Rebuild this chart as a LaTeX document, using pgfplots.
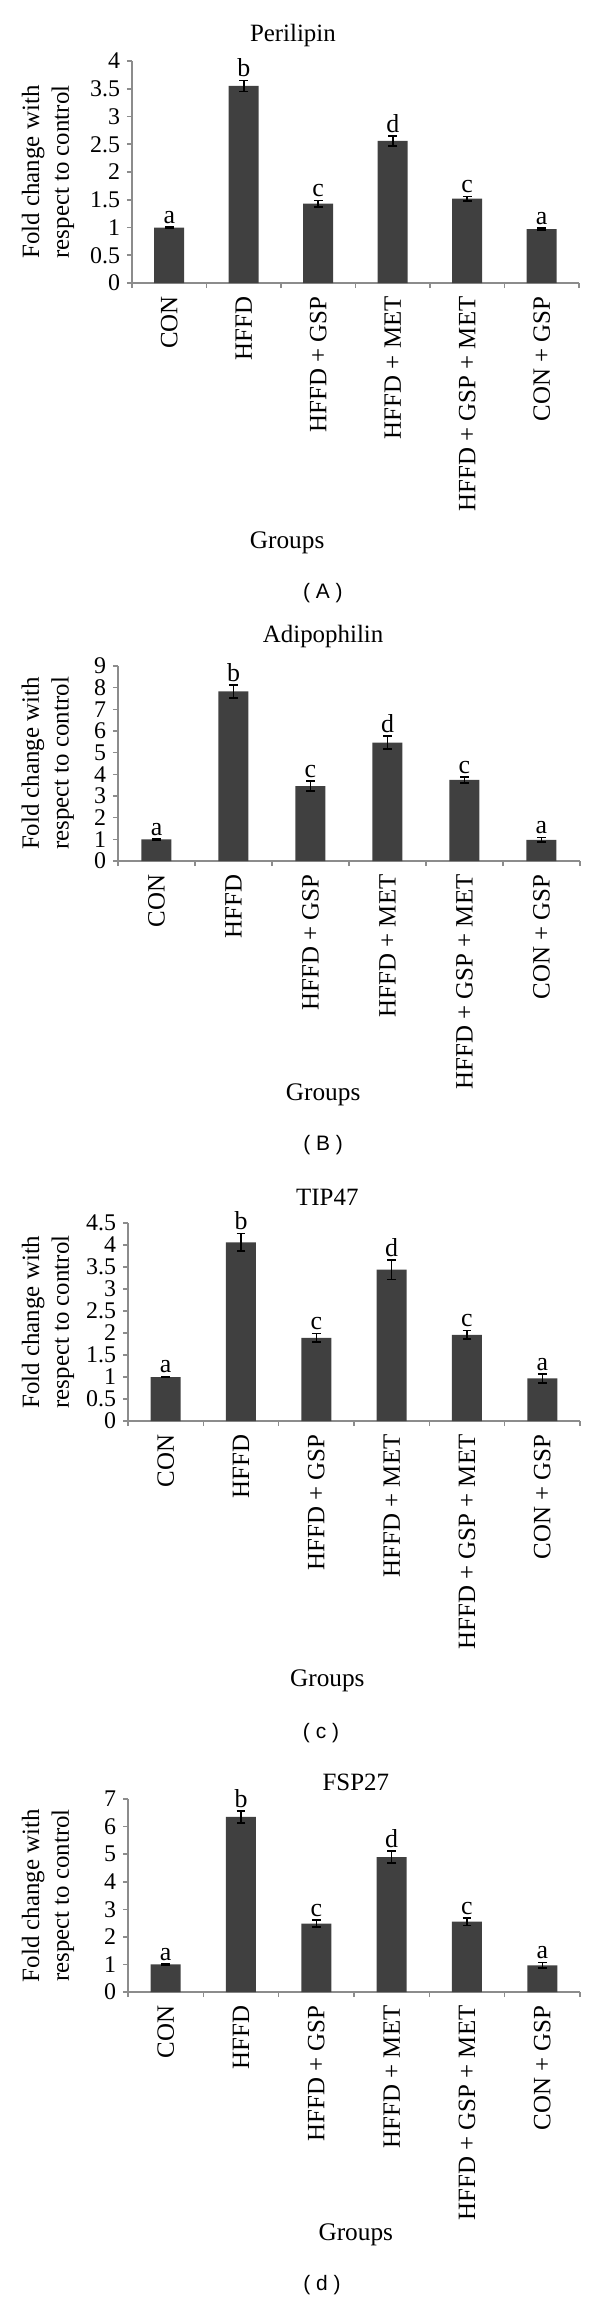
\documentclass[border=0pt]{standalone}
\usepackage{fontspec}
\setmainfont{Liberation Serif}
\newfontfamily\sansf{Liberation Sans}
\usepackage{pgfplots}
\usepackage{pgfplotstable}
\pgfplotsset{compat=1.18}

\definecolor{barc}{RGB}{64,64,64}
\definecolor{axc}{RGB}{140,140,140}

\pgfplotstableread{
x y e l
0 1.00 0.01 a
1 3.55 0.10 b
2 1.43 0.06 c
3 2.56 0.09 d
4 1.52 0.04 c
5 0.97 0.02 a
}\tA
\pgfplotstableread{
x y e l
0 1.00 0.02 a
1 7.83 0.30 b
2 3.46 0.23 c
3 5.47 0.30 d
4 3.74 0.15 c
5 0.98 0.10 a
}\tB
\pgfplotstableread{
x y e l
0 1.00 0.01 a
1 4.06 0.20 b
2 1.89 0.10 c
3 3.44 0.22 d
4 1.96 0.10 c
5 0.97 0.10 a
}\tC
\pgfplotstableread{
x y e l
0 1.00 0.02 a
1 6.35 0.22 b
2 2.48 0.13 c
3 4.89 0.22 d
4 2.55 0.14 c
5 0.97 0.10 a
}\tD

\pgfplotsset{
  panel/.style={
    scale only axis,
    anchor=south west,
    clip=false,
    axis x line*=bottom, axis y line*=left,
    axis line style={axc, line width=0.8bp},
    xmin=-0.5, xmax=5.5, ymin=0,
    xtick={0,...,5},
    xticklabels={CON, HFFD, HFFD + GSP, HFFD + MET, HFFD + GSP + MET, CON + GSP},
    minor xtick={-0.5,0.5,...,5.5},
    major x tick style={draw=none},
    minor x tick style={axc, line width=0.8bp},
    y tick style={axc, line width=0.8bp},
    tick align=outside,
    major tick length=2.5bp, minor tick length=2.5bp,
    xticklabel style={rotate=90, anchor=east, inner sep=4bp, font=\fontsize{12.5}{14}\selectfont},
    yticklabel style={font=\fontsize{12}{14}\selectfont},
    /pgf/number format/assume math mode=true,
    ylabel={Fold change with\\respect to control},
    ylabel style={align=center, font=\fontsize{12.5}{15}\selectfont, anchor=center},
    every axis title shift=0pt,
    title style={font=\fontsize{12.5}{15}\selectfont, anchor=center},
    xlabel={Groups},
    xlabel style={font=\fontsize{12.7}{15}\selectfont, anchor=center},
  },
  bars/.style={ybar, bar width=15bp, fill=barc, draw=none,
    error bars/.cd, y dir=both, y explicit,
    error bar style={black, line width=0.8bp},
    error mark options={black, rotate=90, mark size=2.2bp, line width=0.8bp}},
  letters/.style={draw=none, mark=none, nodes near coords, point meta=explicit symbolic,
    every node near coord/.append style={text=black, anchor=south, inner sep=1.5bp,
      font=\fontsize{13}{15}\selectfont}},
}

\begin{document}
\begin{tikzpicture}
\path[use as bounding box] (0,0) rectangle (300bp,-1150bp);

% Panel A
\begin{axis}[panel, at={(66bp,-141.5bp)}, width=223.5bp, height=111bp,
  ymax=4, ytick={0,0.5,...,4},
  title={Perilipin},
  title style={at={(axis description cs:0.36,1.117)}},
  ylabel style={at={(axis description cs:-0.188,0.5)}},
  xlabel style={at={(axis description cs:0.347,-1.171)}}]
\addplot[bars] table[x=x, y=y, y error=e] {\tA};
\addplot[letters] table[x=x, y expr=\thisrow{y}+\thisrow{e}, meta=l] {\tA};
\node[font=\sansf\fontsize{10.5}{12}\selectfont] at (axis description cs:0.427,-1.396) {( A )};
\end{axis}

% Panel B
\begin{axis}[panel, at={(59bp,-430.5bp)}, width=231bp, height=97.5bp,
  ymax=9, ytick={0,1,...,9},
  title={Adipophilin},
  title style={at={(axis description cs:0.444,1.149)}},
  ylabel style={at={(axis description cs:-0.152,0.5)}},
  xlabel style={at={(axis description cs:0.444,-1.2)}}]
\addplot[bars] table[x=x, y=y, y error=e] {\tB};
\addplot[letters] table[x=x, y expr=\thisrow{y}+\thisrow{e}, meta=l] {\tB};
\node[font=\sansf\fontsize{10.5}{12}\selectfont] at (axis description cs:0.444,-1.456) {( B )};
\end{axis}

% Panel C
\begin{axis}[panel, at={(64bp,-710.5bp)}, width=226bp, height=99bp,
  ymax=4.5, ytick={0,0.5,...,4.5},
  title={TIP47},
  title style={at={(axis description cs:0.441,1.131)}},
  ylabel style={at={(axis description cs:-0.177,0.5)}},
  xlabel style={at={(axis description cs:0.441,-1.313)}}]
\addplot[bars] table[x=x, y=y, y error=e] {\tC};
\addplot[letters] table[x=x, y expr=\thisrow{y}+\thisrow{e}, meta=l] {\tC};
\node[font=\sansf\fontsize{10.5}{12}\selectfont] at (axis description cs:0.427,-1.576) {( c )};
\end{axis}

% Panel D
\begin{axis}[panel, at={(64bp,-996bp)}, width=226bp, height=96.5bp,
  ymax=7, ytick={0,1,...,7},
  title={FSP27},
  title style={at={(axis description cs:0.504,1.088)}},
  ylabel style={at={(axis description cs:-0.177,0.5)}},
  xlabel style={at={(axis description cs:0.504,-1.259)}}]
\addplot[bars] table[x=x, y=y, y error=e] {\tD};
\addplot[letters] table[x=x, y expr=\thisrow{y}+\thisrow{e}, meta=l] {\tD};
\node[font=\sansf\fontsize{10.5}{12}\selectfont] at (axis description cs:0.429,-1.518) {( d )};
\end{axis}
\end{tikzpicture}
\end{document}
